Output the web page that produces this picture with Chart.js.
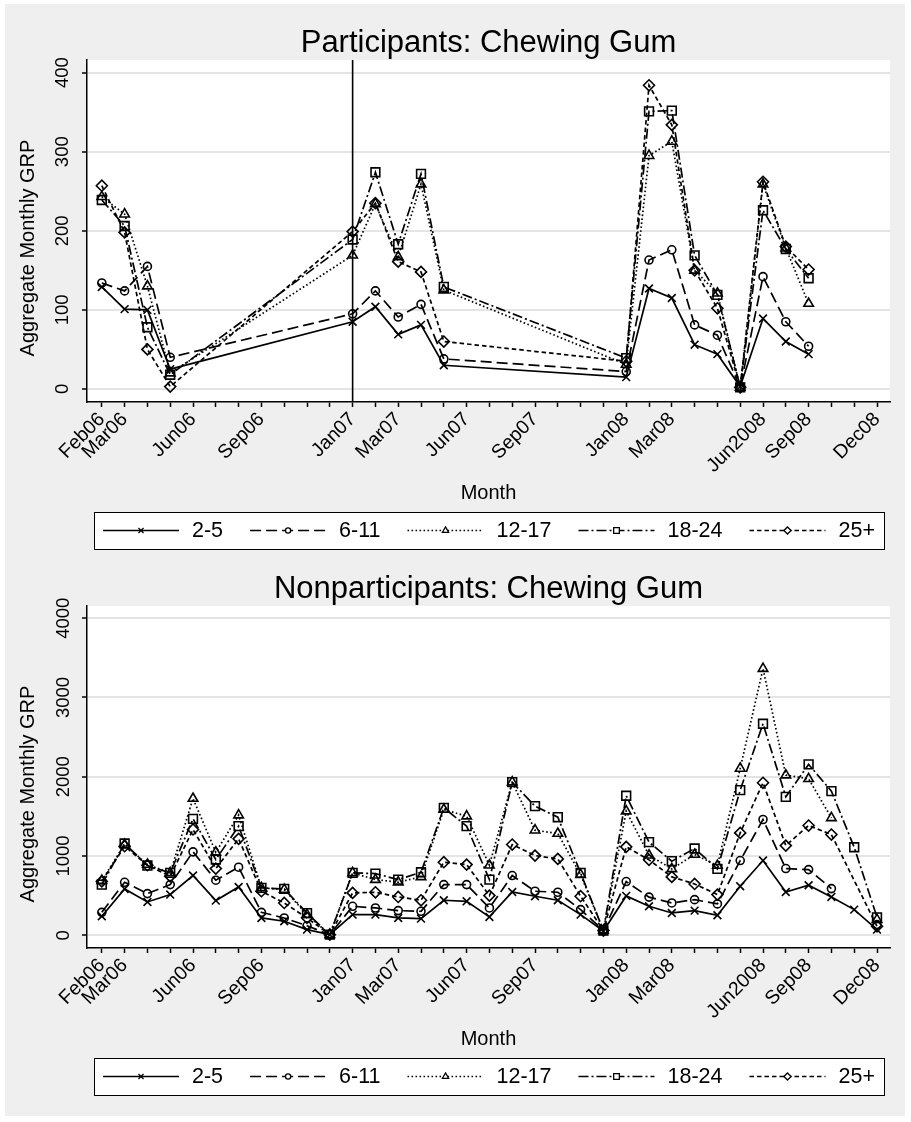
<!DOCTYPE html>
<html>
<head>
<meta charset="utf-8">
<script src="https://cdn.jsdelivr.net/npm/chart.js@4.4.1/dist/chart.umd.min.js"></script>
<style>
  html, body { margin: 0; padding: 0; background: #ffffff; }
  #frame { position: absolute; left: 5px; top: 4px; width: 900px; height: 1112px; background: #efefef; }
  canvas { position: absolute; left: 0; }
  #partChart { top: 0; }
  #nonpartChart { top: 546px; }
</style>
</head>
<body>
<div id="frame"></div>
<canvas id="partChart" width="911" height="552"></canvas>
<canvas id="nonpartChart" width="911" height="576"></canvas>
<script>
// ---- Data -------------------------------------------------------------
// Month index: 0 = Feb 2006 ... 34 = Dec 2008
const seriesLabels = ['2-5', '6-11', '12-17', '18-24', '25+'];

// Participants (months with ad activity only)
const monthsPart = [0, 1, 2, 3, 11, 12, 13, 14, 15, 23, 24, 25, 26, 27, 28, 29, 30, 31];
const part2to5   = [129, 101, 100, 25, 85, 104, 69, 81, 30, 15, 127, 115, 56, 44, 3, 89, 60, 44];
const part6to11  = [134, 124, 155, 40, 95, 124, 91, 107, 38, 22, 163, 176, 81, 68, 2, 142, 85, 54];
const part12to17 = [243, 221, 130, 20, 169, 234, 167, 259, 125, 31, 295, 313, 150, 121, 2, 259, 178, 108];
const part18to24 = [239, 206, 78, 18, 189, 274, 183, 272, 129, 39, 351, 352, 169, 119, 2, 226, 177, 140];
const part25plus = [257, 198, 50, 3, 199, 235, 161, 148, 60, 35, 384, 334, 150, 102, 2, 262, 180, 151];

// Nonparticipants (every month)
const monthsNon = [0, 1, 2, 3, 4, 5, 6, 7, 8, 9, 10, 11, 12, 13, 14, 15, 16, 17,
                   18, 19, 20, 21, 22, 23, 24, 25, 26, 27, 28, 29, 30, 31, 32, 33, 34];
const non2to5   = [240, 585, 421, 514, 754, 438, 610, 219, 177, 72, 8, 261, 261, 219, 211, 442, 429, 232,
                   547, 493, 442, 261, 55, 497, 366, 282, 312, 253, 619, 943, 547, 632, 484, 324, 72];
const non6to11  = [290, 669, 526, 640, 1053, 695, 859, 290, 219, 120, 8, 366, 345, 312, 303, 640, 640, 345,
                   754, 556, 543, 324, 60, 678, 482, 408, 450, 396, 943, 1461, 842, 829, 589, null, 135];
const non12to17 = [690, 1145, 893, 787, 1726, 1048, 1516, 598, 577, 260, 8, 787, 703, 670, 737, 1587, 1503, 884,
                   1932, 1326, 1284, 766, 60, 1566, 1010, 838, 1019, 880, 2105, 3364, 2021, 1974, 1482, null, 198];
const non18to24 = [640, 1158, 880, 787, 1469, 956, 1377, 598, 585, 280, 8, 787, 779, 703, 796, 1608, 1377, 703,
                   1932, 1629, 1490, 787, 60, 1760, 1175, 935, 1095, 838, 1831, 2669, 1747, 2156, 1819, 1111, 227];
const non25plus = [680, 1124, 884, 745, 1335, 842, 1217, 556, 408, 220, 8, 535, 543, 484, 442, 922, 892, 501,
                   1145, 1006, 964, 493, 60, 1116, 952, 737, 648, 514, 1292, 1924, 1132, 1385, 1271, null, 114];

// Axis ticks
const tickMonths = [0, 1, 4, 7, 11, 13, 16, 19, 23, 25, 29, 31, 34];
const tickNames  = ['Feb06', 'Mar06', 'Jun06', 'Sep06', 'Jan07', 'Mar07', 'Jun07', 'Sep07',
                    'Jan08', 'Mar08', 'Jun2008', 'Sep08', 'Dec08'];
const yTicksPart = [0, 100, 200, 300, 400];
const yTicksNon  = [0, 1000, 2000, 3000, 4000];
const campaignMonth = 11; // reference line at Jan07

// ---- Styling ----------------------------------------------------------
const FONT = '"Liberation Sans", Arial, Helvetica, sans-serif';
const seriesStyle = [
  { borderDash: [],             pointStyle: 'crossRot', pointRadius: 5.5 },
  { borderDash: [11, 5],        pointStyle: 'circle',   pointRadius: 4 },
  { borderDash: [1.6, 2.4],     pointStyle: 'triangle', pointRadius: 5.5 },
  { borderDash: [10, 3, 2, 3],  pointStyle: 'rect',     pointRadius: 6.2 },
  { borderDash: [4.5, 3],       pointStyle: 'rectRot',  pointRadius: 5.5 }
];

function buildDatasets(months, lists, spanFlags) {
  return lists.map((vals, i) => ({
    label: seriesLabels[i],
    data: months.map((m, k) => ({ x: m, y: vals[k] })),
    borderColor: '#000',
    borderWidth: 1.7,
    borderDash: seriesStyle[i].borderDash,
    pointStyle: seriesStyle[i].pointStyle,
    pointRadius: seriesStyle[i].pointRadius,
    pointBorderWidth: 1.6,
    pointBorderColor: '#000',
    pointBackgroundColor: 'rgba(255,255,255,0)',
    tension: 0,
    spanGaps: spanFlags[i]
  }));
}

// Titles, legend, white plot region, reference line
const decor = {
  id: 'decor',
  beforeDraw(chart) {
    const { ctx, chartArea: a } = chart;
    ctx.save();
    ctx.fillStyle = '#ffffff';
    ctx.fillRect(a.left, a.top, a.right - a.left, a.bottom - a.top);
    ctx.restore();
  },
  beforeDatasetsDraw(chart, args, o) {
    if (o.refMonth == null) return;
    const { ctx, chartArea: a } = chart;
    const x = chart.scales.x.getPixelForValue(o.refMonth);
    ctx.save();
    ctx.strokeStyle = '#000';
    ctx.lineWidth = 1.6;
    ctx.beginPath();
    ctx.moveTo(x, a.top);
    ctx.lineTo(x, a.bottom);
    ctx.stroke();
    ctx.restore();
  },
  afterDraw(chart, args, o) {
    const { ctx, chartArea: a } = chart;
    const cx = (a.left + a.right) / 2;
    ctx.save();
    ctx.fillStyle = '#000';

    // Panel title
    ctx.font = '31px ' + FONT;
    ctx.textAlign = 'center';
    ctx.textBaseline = 'alphabetic';
    ctx.fillText(o.title, cx, 52);

    // Y axis title
    ctx.save();
    ctx.font = '20px ' + FONT;
    ctx.translate(34, (a.top + a.bottom) / 2 + 17);
    ctx.rotate(-Math.PI / 2);
    ctx.fillText('Aggregate Monthly GRP', 0, 0);
    ctx.restore();

    // X axis title
    ctx.font = '20px ' + FONT;
    ctx.fillText('Month', cx, 498.5);

    // Legend
    const items = chart.data.datasets;
    ctx.font = '21.5px ' + FONT;
    const sample = 76, gapText = 13, gapNext = 27, padX = 9;
    const widths = items.map(d => ctx.measureText(d.label).width);
    const total = items.length * (sample + gapText) + widths.reduce((s, w) => s + w, 0) + (items.length - 1) * gapNext;
    const boxW = Math.round(total + 2 * padX);
    const bx = Math.round(cx - boxW / 2), by = 512, bh = 37;
    ctx.fillStyle = '#ffffff';
    ctx.fillRect(bx, by, boxW, bh);
    ctx.strokeStyle = '#000';
    ctx.lineWidth = 1;
    ctx.strokeRect(bx + 0.5, by + 0.5, boxW, bh);
    let x = bx + padX;
    const ly = by + bh / 2;
    items.forEach((d, i) => {
      ctx.strokeStyle = '#000';
      ctx.lineWidth = 1.4;
      ctx.setLineDash(d.borderDash);
      ctx.beginPath();
      ctx.moveTo(x, ly);
      ctx.lineTo(x + sample, ly);
      ctx.stroke();
      ctx.setLineDash([]);
      ctx.fillStyle = 'rgba(255,255,255,1)';
      ctx.lineWidth = 1.3;
      Chart.helpers.drawPoint(ctx, { pointStyle: d.pointStyle, radius: d.pointRadius * 0.65, borderWidth: 1.3, rotation: 0 }, x + sample / 2, ly);
      ctx.fillStyle = '#000';
      ctx.textAlign = 'left';
      ctx.textBaseline = 'middle';
      ctx.fillText(d.label, x + sample + gapText, ly + 1);
      x += sample + gapText + widths[i] + gapNext;
    });
    ctx.restore();
  }
};

function makeChart(canvasId, months, lists, spanFlags, yMin, yMax, yTicks, yPad, bottomPad, plotOpts) {
  return new Chart(document.getElementById(canvasId), {
    type: 'line',
    data: { datasets: buildDatasets(months, lists, spanFlags) },
    plugins: [decor],
    options: {
      responsive: false,
      animation: false,
      devicePixelRatio: 1,
      layout: { padding: { left: 0, right: 21, top: 60, bottom: bottomPad } },
      plugins: {
        legend: { display: false },
        tooltip: { enabled: false },
        decor: plotOpts
      },
      scales: {
        x: {
          type: 'linear',
          min: -0.65,
          max: 34.57,
          afterBuildTicks: s => { s.ticks = monthsNon.map(v => ({ value: v })); },
          afterFit: s => { s.height = 100; },
          ticks: {
            autoSkip: false,
            minRotation: 45,
            maxRotation: 45,
            padding: 1,
            color: '#000',
            font: { family: FONT, size: 19.5 },
            callback: v => { const i = tickMonths.indexOf(v); return i >= 0 ? tickNames[i] : ''; }
          },
          grid: { drawOnChartArea: false, drawTicks: true, tickLength: 5, tickColor: '#000', tickWidth: 1.5 },
          border: { display: true, color: '#000', width: 1.5 }
        },
        y: {
          type: 'linear',
          min: yMin,
          max: yMax,
          afterBuildTicks: s => { s.ticks = yTicks.map(v => ({ value: v })); },
          afterFit: s => { s.width = 87; },
          ticks: {
            minRotation: 90,
            maxRotation: 90,
            crossAlign: 'center',
            padding: yPad,
            color: '#000',
            font: { family: FONT, size: 18.5 },
            callback: v => String(v)
          },
          grid: { color: '#e4e4e4', lineWidth: 2, tickLength: 5, tickColor: '#000', tickWidth: 1.5 },
          border: { display: true, color: '#000', width: 1.5 }
        }
      }
    }
  });
}

makeChart('partChart', monthsPart,
  [part2to5, part6to11, part12to17, part18to24, part25plus],
  [true, true, true, true, true],
  -16.5, 416, yTicksPart, 3.5, 50,
  { title: 'Participants: Chewing Gum', refMonth: campaignMonth });

makeChart('nonpartChart', monthsNon,
  [non2to5, non6to11, non12to17, non18to24, non25plus],
  [false, false, false, false, true],
  -160, 4154, yTicksNon, -2, 74,
  { title: 'Nonparticipants: Chewing Gum', refMonth: null });
</script>
</body>
</html>
